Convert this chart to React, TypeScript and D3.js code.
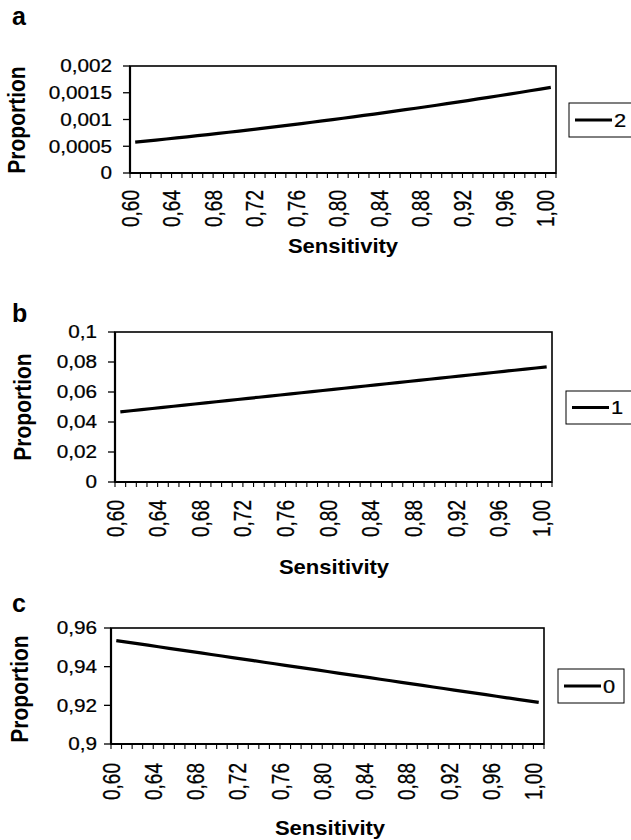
import React from "react";
import * as d3 from "d3";

// sensitivity categories 0,60 ... 1,00
const sensitivity = d3.range(60, 101).map(v => (v / 100).toFixed(2).replace(".", ","));
const labelEvery = 4;

// proportion with 2 positives (panel a)
const prop2 = [
  0.000576, 0.000595, 0.000615, 0.000635, 0.000655, 0.000676, 0.000697, 0.000718, 0.00074, 0.000762,
  0.000784, 0.000807, 0.000829, 0.000853, 0.000876, 0.0009, 0.000924, 0.000949, 0.000973, 0.000999,
  0.001024, 0.00105, 0.001076, 0.001102, 0.001129, 0.001156, 0.001183, 0.001211, 0.001239, 0.001267,
  0.001296, 0.001325, 0.001354, 0.001384, 0.001414, 0.001444, 0.001475, 0.001505, 0.001537, 0.001568,
  0.0016,
];

// proportion with 1 positive (panel b)
const prop1 = [
  0.0468, 0.0475, 0.0483, 0.049, 0.0498, 0.0505, 0.0513, 0.052, 0.0528, 0.0535,
  0.0543, 0.055, 0.0558, 0.0565, 0.0573, 0.058, 0.0588, 0.0595, 0.0603, 0.061,
  0.0618, 0.0625, 0.0633, 0.064, 0.0648, 0.0655, 0.0663, 0.067, 0.0678, 0.0685,
  0.0693, 0.07, 0.0708, 0.0715, 0.0723, 0.073, 0.0738, 0.0745, 0.0753, 0.076,
  0.0768,
];

// proportion with 0 positives (panel c)
const prop0 = [
  0.9535, 0.9527, 0.9519, 0.9511, 0.9503, 0.9495, 0.9487, 0.9479, 0.9471, 0.9463,
  0.9455, 0.9447, 0.9439, 0.9431, 0.9423, 0.9415, 0.9407, 0.9399, 0.9391, 0.9383,
  0.9375, 0.9367, 0.9359, 0.9351, 0.9343, 0.9335, 0.9327, 0.9319, 0.9311, 0.9303,
  0.9295, 0.9287, 0.9279, 0.9271, 0.9263, 0.9255, 0.9247, 0.9239, 0.9231, 0.9223,
  0.9215,
];

const yTicksA = [0, 0.0005, 0.001, 0.0015, 0.002];
const yTickLabelsA = ["0", "0,0005", "0,001", "0,0015", "0,002"];
const yTicksB = [0, 0.02, 0.04, 0.06, 0.08, 0.1];
const yTickLabelsB = ["0", "0,02", "0,04", "0,06", "0,08", "0,1"];
const yTicksC = [0.9, 0.92, 0.94, 0.96];
const yTickLabelsC = ["0,9", "0,92", "0,94", "0,96"];

const font = "'Liberation Sans', Arial, sans-serif";
const stretch = 1.15; // scanned original is a bit wide

type PanelProps = {
  letter: string;
  letterY: number;
  values: number[];
  yTicks: number[];
  yTickLabels: string[];
  legend: string;
  box: { x0: number; x1: number; y0: number; y1: number };
  leg: { x: number; y: number; w: number; h: number };
  tickGap: number;
  xTitleX: number;
  xTitleY: number;
  labelTop: number;
  yTitle: { x: number; y: number };
};

function Panel(p: PanelProps) {
  const { box } = p;
  const x = d3.scaleBand<string>().domain(sensitivity).range([box.x0, box.x1]).padding(0);
  const y = d3
    .scaleLinear()
    .domain([p.yTicks[0], p.yTicks[p.yTicks.length - 1]])
    .range([box.y1, box.y0]);
  const bw = x.bandwidth();
  const line = d3
    .line<number>()
    .x((_, i) => (x(sensitivity[i]) as number) + bw / 2)
    .y(d => y(d));
  const tickXs = sensitivity.map(s => x(s) as number).concat([box.x1]);

  return (
    <g fontFamily={font}>
      <text x={12} y={p.letterY} fontSize={25} fontWeight="bold">
        {p.letter}
      </text>
      <text
        transform={`translate(${p.yTitle.x},${p.yTitle.y}) rotate(-90) scale(1,1.1)`}
        textAnchor="middle"
        fontSize={21}
        fontWeight="bold"
      >
        Proportion
      </text>
      <rect
        x={box.x0}
        y={box.y0}
        width={box.x1 - box.x0}
        height={box.y1 - box.y0}
        fill="none"
        stroke="#000"
        strokeWidth={1.6}
      />
      <line x1={box.x0} x2={box.x0} y1={box.y0} y2={box.y1} stroke="#000" strokeWidth={2.2} />
      <line x1={box.x0} x2={box.x1} y1={box.y1} y2={box.y1} stroke="#000" strokeWidth={2.2} />
      {p.yTicks.map((t, i) => (
        <g key={t}>
          <line x1={box.x0 - 7} x2={box.x0} y1={y(t)} y2={y(t)} stroke="#000" strokeWidth={1.3} />
          <text
            transform={`translate(${box.x0 - p.tickGap},${y(t)}) scale(${stretch},1)`}
            dy="0.36em"
            textAnchor="end"
            fontSize={18}
            stroke="#000"
            strokeWidth={0.25}
          >
            {p.yTickLabels[i]}
          </text>
        </g>
      ))}
      {tickXs.map((tx, i) => (
        <line key={i} x1={tx} x2={tx} y1={box.y1} y2={box.y1 + 5} stroke="#000" strokeWidth={1.1} />
      ))}
      {sensitivity.map((s, i) =>
        i % labelEvery === 0 ? (
          <text
            key={s}
            transform={`translate(${x(s) as number},${p.labelTop}) rotate(-90) scale(1,1.25)`}
            dy="0.36em"
            textAnchor="end"
            fontSize={19}
            stroke="#000"
            strokeWidth={0.25}
          >
            {s}
          </text>
        ) : null
      )}
      <text
        transform={`translate(${p.xTitleX},${p.xTitleY}) scale(1.05,1)`}
        textAnchor="middle"
        fontSize={21}
        fontWeight="bold"
      >
        Sensitivity
      </text>
      <path d={line(p.values) || ""} fill="none" stroke="#000" strokeWidth={3.2} />
      <rect
        x={p.leg.x}
        y={p.leg.y}
        width={p.leg.w}
        height={p.leg.h}
        fill="#fff"
        stroke="#000"
        strokeWidth={1}
      />
      <line
        x1={p.leg.x + 6}
        x2={p.leg.x + 43}
        y1={p.leg.y + p.leg.h / 2}
        y2={p.leg.y + p.leg.h / 2}
        stroke="#000"
        strokeWidth={3}
      />
      <text
        transform={`translate(${p.leg.x + 45},${p.leg.y + p.leg.h / 2}) scale(${stretch},1)`}
        dy="0.36em"
        fontSize={19}
        stroke="#000"
        strokeWidth={0.25}
      >
        {p.legend}
      </text>
    </g>
  );
}

export default function App() {
  return (
    <svg
      width={631}
      height={840}
      style={{ position: "absolute", left: 0, top: 0, background: "#fff" }}
    >
      <rect width={631} height={840} fill="#fff" />
      <Panel
        letter="a"
        letterY={25}
        values={prop2}
        yTicks={yTicksA}
        yTickLabels={yTickLabelsA}
        legend="2"
        box={{ x0: 130, x1: 556, y0: 66, y1: 173 }}
        leg={{ x: 569, y: 103, w: 70, h: 34 }}
        tickGap={18}
        xTitleX={343}
        xTitleY={253}
        labelTop={190}
        yTitle={{ x: 25, y: 120 }}
      />
      <Panel
        letter="b"
        letterY={322}
        values={prop1}
        yTicks={yTicksB}
        yTickLabels={yTickLabelsB}
        legend="1"
        box={{ x0: 115, x1: 552, y0: 332, y1: 482 }}
        leg={{ x: 566, y: 391, w: 70, h: 33 }}
        tickGap={18}
        xTitleX={334}
        xTitleY={574}
        labelTop={500}
        yTitle={{ x: 31, y: 407 }}
      />
      <Panel
        letter="c"
        letterY={612}
        values={prop0}
        yTicks={yTicksC}
        yTickLabels={yTickLabelsC}
        legend="0"
        box={{ x0: 111, x1: 544, y0: 628, y1: 744 }}
        leg={{ x: 558, y: 669, w: 66, h: 34 }}
        tickGap={14}
        xTitleX={330}
        xTitleY={835}
        labelTop={763}
        yTitle={{ x: 28, y: 689 }}
      />
    </svg>
  );
}
